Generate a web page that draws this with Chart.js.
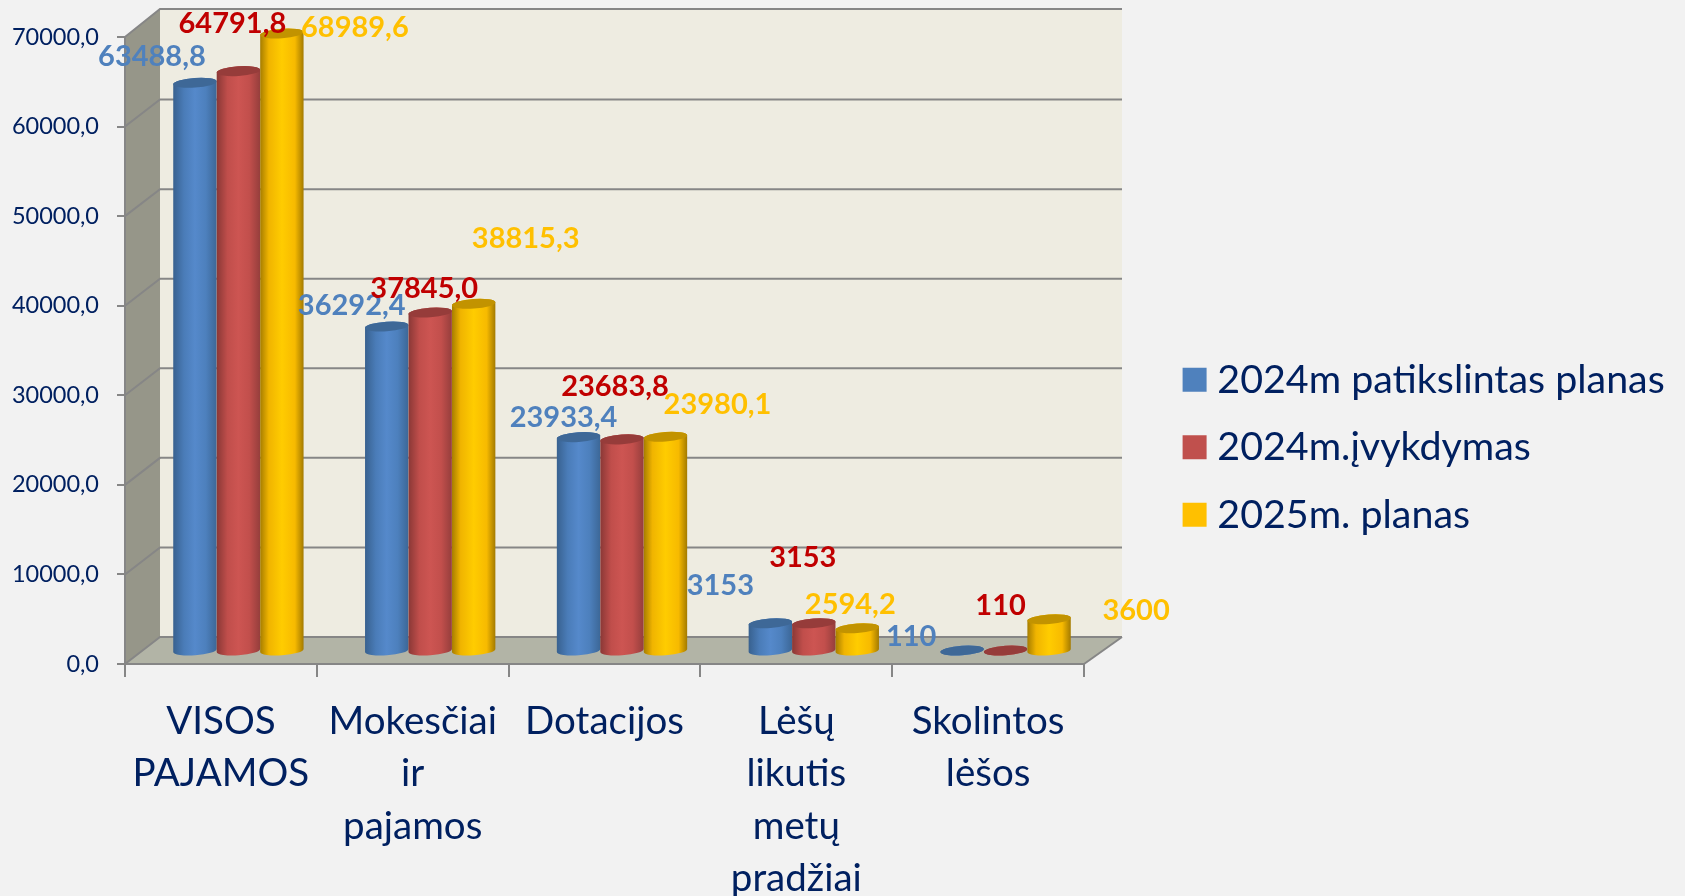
<!DOCTYPE html>
<html lang="lt">
<head>
<meta charset="utf-8">
<title>Pajamos</title>
<style>
html,body{margin:0;padding:0;background:#f2f2f2;overflow:hidden}
canvas{display:block}
</style>
<script src="https://cdn.jsdelivr.net/npm/chart.js@4/dist/chart.umd.min.js"></script>
</head>
<body>
<canvas id="c" width="1685" height="896"></canvas>
<script>
const categories = [["VISOS","PAJAMOS"],["Mokesčiai","ir","pajamos"],["Dotacijos"],["Lėšų","likutis","metų","pradžiai"],["Skolintos","lėšos"]];
const seriesNames = ["2024m patikslintas planas","2024m.įvykdymas","2025m. planas"];
const plan2024 = [63488.8,36292.4,23933.4,3153,110];
const done2024 = [64791.8,37845.0,23683.8,3153,110];
const plan2025 = [68989.6,38815.3,23980.1,2594.2,3600];
const plan2024Labels = ["63488,8","36292,4","23933,4","3153","110"];
const done2024Labels = ["64791,8","37845,0","23683,8","3153","110"];
const plan2025Labels = ["68989,6","38815,3","23980,1","2594,2","3600"];

// 3D projection of the box: how far the back wall sits from the front axes, and where bars stand
const BACK = {dx:35, dy:-27};
const BAR_SHIFT = {dx:17.5, dy:-12.5};
const ELL = {ry:4.8, rot:-0.07};
const NAVY = "#002060", LINE = "#868686";

const looks = [
 {text:"#4f81bd", swatch:"#4f81bd", top:"#3e6897", stops:[[0,"#38618f"],[.25,"#4a7cb8"],[.5,"#5589cb"],[.75,"#4d80bd"],[1,"#3c6797"]]},
 {text:"#c00000", swatch:"#c0504d", top:"#963c3a", stops:[[0,"#8a3836"],[.25,"#c04e4b"],[.5,"#cd5552"],[.75,"#c24f4c"],[1,"#953e3c"]]},
 {text:"#ffc000", swatch:"#ffc000", top:"#c29300", stops:[[0,"#a67d00"],[.2,"#f0b400"],[.5,"#ffcc00"],[.8,"#f7ba00"],[1,"#a37a00"]]}
];
const seriesLabels = [plan2024Labels, done2024Labels, plan2025Labels];
// label centre relative to the top of its bar
const labelOffsets = [
 [[-43,-26],[-35,-21],[-15,-19],[-50,-38],[-51,-14]],
 [[-6,-48],[-6,-24],[-7,-53],[-11,-66],[-5,-45]],
 [[73,-6],[52,-65],[52,-32],[-7,-24],[87,-9]]
];

const box3d = {
 id:"box3d",
 beforeDraw(chart){
  const {ctx,chartArea:a,scales:{y}} = chart;
  const l=a.left,r=a.right,t=y.getPixelForValue(70000),b=y.getPixelForValue(0);
  const bl=l+BACK.dx,brx=r+38,dy=BACK.dy;
  ctx.save();
  ctx.fillStyle="#f2f2f2";ctx.fillRect(0,0,chart.width,chart.height);
  ctx.fillStyle="#eeece1";ctx.fillRect(bl,t+dy-1,brx-bl,b-t+1);
  ctx.fillStyle="#969689";
  ctx.beginPath();ctx.moveTo(l,t);ctx.lineTo(bl,t+dy-1);ctx.lineTo(bl,b+dy);ctx.lineTo(l,b);ctx.closePath();ctx.fill();
  ctx.fillStyle="#b2b4a6";
  ctx.beginPath();ctx.moveTo(l,b);ctx.lineTo(bl,b+dy);ctx.lineTo(brx,b+dy);ctx.lineTo(r,b);ctx.closePath();ctx.fill();
  ctx.strokeStyle=LINE;ctx.lineWidth=2;
  y.ticks.forEach(tk=>{
   const p=y.getPixelForValue(tk.value);
   const by=p+dy-(tk.value===70000?1:0);
   ctx.beginPath();ctx.moveTo(l,p);ctx.lineTo(bl,by);ctx.lineTo(brx,by);ctx.stroke();
  });
  ctx.beginPath();ctx.moveTo(r,b);ctx.lineTo(brx,b+dy);ctx.stroke();
  ctx.restore();
 }
};

const cylinders = {
 id:"cylinders",
 afterLayout(chart){
  const lg=chart.legend;
  lg.left=1163.5;lg.right=1685;lg.top=332;lg.bottom=896;
 },
 beforeDatasetDraw(){ return false; },
 beforeDatasetsDraw(chart){
  const ctx=chart.ctx;
  chart.data.datasets.forEach((ds,i)=>{
   const look=looks[i];
   chart.getDatasetMeta(i).data.forEach(el=>{
    const x=el.x+BAR_SHIFT.dx,top=el.y+BAR_SHIFT.dy,base=el.base+BAR_SHIFT.dy,rx=el.width/2;
    const g=ctx.createLinearGradient(x-rx,0,x+rx,0);
    look.stops.forEach(s=>g.addColorStop(s[0],s[1]));
    ctx.save();
    ctx.fillStyle=g;
    ctx.beginPath();
    ctx.ellipse(x,base,rx,ELL.ry,ELL.rot,0,Math.PI);
    ctx.ellipse(x,top,rx,ELL.ry,ELL.rot,Math.PI,2*Math.PI);
    ctx.closePath();ctx.fill();
    ctx.fillStyle=look.top;
    ctx.beginPath();ctx.ellipse(x,top,rx,ELL.ry,ELL.rot,0,2*Math.PI);ctx.fill();
    ctx.restore();
   });
  });
 },
 afterDatasetsDraw(chart){
  const ctx=chart.ctx;
  ctx.save();
  ctx.font="bold 29px Lato";ctx.textAlign="center";ctx.textBaseline="middle";
  chart.data.datasets.forEach((ds,i)=>{
   ctx.fillStyle=looks[i].text;
   chart.getDatasetMeta(i).data.forEach((el,j)=>{
    const o=labelOffsets[i][j];
    ctx.fillText(seriesLabels[i][j],el.x+BAR_SHIFT.dx+o[0],el.y+BAR_SHIFT.dy+o[1]);
   });
  });
  ctx.restore();
 }
};

new Chart(document.getElementById("c"),{
 type:"bar",
 data:{
  labels:categories,
  datasets:[
   {label:seriesNames[0],data:plan2024,backgroundColor:looks[0].swatch},
   {label:seriesNames[1],data:done2024,backgroundColor:looks[1].swatch},
   {label:seriesNames[2],data:plan2025,backgroundColor:looks[2].swatch}
  ]
 },
 options:{
  responsive:false,animation:false,events:[],
  barPercentage:1,categoryPercentage:0.68,
  layout:{padding:{left:0,top:37,right:601,bottom:0}},
  font:{family:"Lato"},
  scales:{
   x:{
    afterFit(s){s.height=232;},
    grid:{drawOnChartArea:false,color:LINE,lineWidth:2,tickLength:13},
    border:{color:LINE,width:2},
    ticks:{color:NAVY,font:{family:"Lato",size:38.5,lineHeight:1.365},maxRotation:0,minRotation:0,autoSkip:false,padding:18}
   },
   y:{
    min:0,max:70000,
    afterFit(s){s.width=125;},
    grid:{drawOnChartArea:false,color:LINE,lineWidth:2,tickLength:8},
    border:{color:LINE,width:2},
    ticks:{color:NAVY,font:{family:"Lato",size:23.5},stepSize:10000,padding:18,
     callback:v=>v.toFixed(1).replace(".",",")}
   }
  },
  plugins:{
   tooltip:{enabled:false},
   legend:{position:"chartArea",align:"start",
    labels:{color:NAVY,font:{family:"Lato",size:39.4},boxWidth:6,boxHeight:6,padding:28.1,
     generateLabels(chart){
      return Chart.defaults.plugins.legend.labels.generateLabels(chart)
       .map(it=>({...it,strokeStyle:it.fillStyle,lineWidth:18}));
     }}}
  }
 },
 plugins:[box3d,cylinders]
});
</script>
</body>
</html>
